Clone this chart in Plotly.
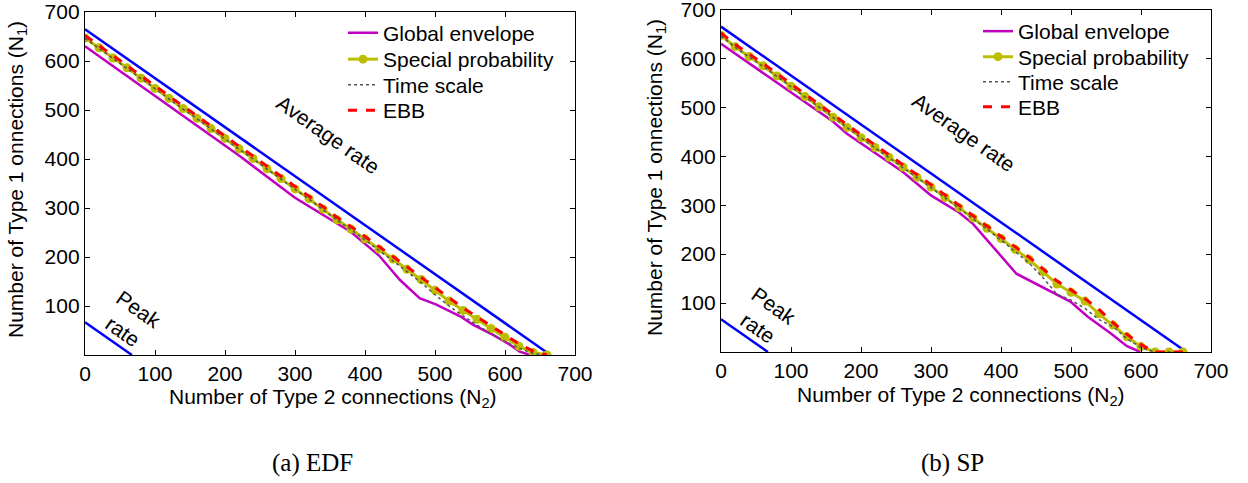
import plotly.graph_objects as go

W, H = 1248, 483


def px(x):
    return x / W


def py(y):
    return 1 - y / H


# ---------------- data ----------------
x_grid = [0, 20, 40, 60, 80, 100, 120, 140, 160, 180, 200, 220, 240, 260, 280, 300, 320,
          340, 360, 380, 400, 420, 440, 460, 480, 500, 520, 540, 560, 580, 600, 620, 640, 660]

# (a) EDF
sp_edf = [647, 627, 606, 586, 565, 544, 524, 503, 483, 462, 442, 421, 401, 380, 360, 339, 319,
          298, 276, 257, 237, 216, 196, 175, 154, 132, 110, 91, 73, 54, 36, 18, 5, 0]
ts_edf = [646, 626, 605, 585, 564, 543, 523, 502, 482, 461, 441, 420, 400, 379, 359, 338, 318,
          297, 275, 256, 235, 213, 192, 170, 148, 123, 100, 80, 61, 44, 28, 14, 3, 0]
ebb_edf = [652, 632, 611, 591, 570, 549, 529, 508, 488, 467, 447, 426, 406, 385, 365, 344, 324,
           303, 281, 262, 242, 221, 201, 180, 159, 137, 116, 96, 78, 59, 41, 23, 8, 0]
ge_edf_x = [0, 220, 300, 380, 420, 450, 478, 502, 536, 554, 583, 607, 621, 636]
ge_edf_y = [630, 407, 321, 251, 203, 153, 116, 103, 79, 62, 41, 21, 7, 0]

# (b) SP
sp_sp = [647, 624, 604, 585, 564, 543, 522, 501, 480, 459, 438, 418, 398, 378, 357, 337, 316,
         295, 274, 253, 232, 210, 189, 164, 139, 122, 104, 78, 55, 31, 11, 0, 0, 0]
ts_sp = [646, 623, 603, 584, 563, 542, 521, 500, 479, 458, 437, 417, 397, 377, 356, 336, 315,
         294, 272, 251, 229, 206, 182, 152, 118, 106, 89, 66, 52, 27, 9, 0, 0, 0]
ebb_sp = [652, 629, 609, 590, 569, 548, 527, 506, 485, 464, 443, 423, 403, 383, 362, 342, 321,
          300, 279, 258, 237, 215, 194, 170, 145, 127, 109, 87, 60, 36, 15, 0, 0, 0]
ge_sp_x = [0, 160, 180, 260, 300, 340, 360, 422, 499, 524, 557, 580, 599]
ge_sp_y = [630, 471, 446, 368, 320, 285, 262, 160, 103, 72, 38, 12, 0]

# reference rate lines (N1 + N2 = const)
avg_x = [0, 665]
avg_y = [665, 0]
peak_x = [0, 67]
peak_y = [67, 0]

x_ticks = [0, 100, 200, 300, 400, 500, 600, 700]
y_ticks = [100, 200, 300, 400, 500, 600, 700]

series_names = ["Global envelope", "Special probability", "Time scale", "EBB"]
captions = ["(a) EDF", "(b) SP"]

# ---------------- styles ----------------
SANS = "Liberation Sans, Arial, Helvetica, sans-serif"
SERIF = "Liberation Serif, Times New Roman, serif"
FS = 21
C_BLUE = "#0000FF"
C_MAG = "#C000C0"
C_YEL = "#BDBD00"
C_TS = "#555555"
C_EBB = "#FF0000"

fig = go.Figure()

panels = [
    dict(xa="x", ya="y", legs=["legend", "legend2", "legend3", "legend4"],
         sp=sp_edf, ts=ts_edf, ebb=ebb_edf, gx=ge_edf_x, gy=ge_edf_y,
         leg_x=343, leg_rows=[33, 59.5, 85, 110.5]),
    dict(xa="x2", ya="y2", legs=["legend5", "legend6", "legend7", "legend8"],
         sp=sp_sp, ts=ts_sp, ebb=ebb_sp, gx=ge_sp_x, gy=ge_sp_y,
         leg_x=978, leg_rows=[31.5, 57, 82, 107]),
]

legend_layouts = {}
for p in panels:
    fig.add_trace(go.Scatter(x=avg_x, y=avg_y, mode="lines", xaxis=p["xa"], yaxis=p["ya"],
                             line=dict(color=C_BLUE, width=2.5), showlegend=False, hoverinfo="skip"))
    fig.add_trace(go.Scatter(x=peak_x, y=peak_y, mode="lines", xaxis=p["xa"], yaxis=p["ya"],
                             line=dict(color=C_BLUE, width=2.5), showlegend=False, hoverinfo="skip"))
    fig.add_trace(go.Scatter(x=p["gx"], y=p["gy"], mode="lines", name=series_names[0],
                             xaxis=p["xa"], yaxis=p["ya"], legend=p["legs"][0],
                             line=dict(color=C_MAG, width=2.5)))
    fig.add_trace(go.Scatter(x=x_grid, y=p["sp"], mode="lines+markers", name=series_names[1],
                             xaxis=p["xa"], yaxis=p["ya"], legend=p["legs"][1],
                             line=dict(color=C_YEL, width=3),
                             marker=dict(color=C_YEL, size=9, symbol="circle")))
    fig.add_trace(go.Scatter(x=x_grid, y=p["ts"], mode="lines", name=series_names[2],
                             xaxis=p["xa"], yaxis=p["ya"], legend=p["legs"][2],
                             line=dict(color=C_TS, width=1.5, dash="dot")))
    fig.add_trace(go.Scatter(x=x_grid, y=p["ebb"], mode="lines", name=series_names[3],
                             xaxis=p["xa"], yaxis=p["ya"], legend=p["legs"][3],
                             line=dict(color=C_EBB, width=3, dash="dash")))
    for lg, ry in zip(p["legs"], p["leg_rows"]):
        legend_layouts[lg] = dict(x=px(p["leg_x"]), y=py(ry), xanchor="left", yanchor="middle",
                                  bgcolor="rgba(0,0,0,0)", borderwidth=0,
                                  font=dict(family=SANS, size=FS, color="black"),
                                  itemwidth=30)

axis_common = dict(showline=True, linecolor="black", linewidth=1.3, mirror="ticks",
                   ticks="inside", ticklen=5, tickcolor="black", tickwidth=1,
                   showgrid=False, zeroline=False, automargin=False,
                   ticklabeloverflow="allow",
                   tickfont=dict(family=SANS, size=FS, color="black"), range=[0, 700])

fig.update_layout(
    width=W, height=H,
    margin=dict(l=0, r=0, t=0, b=0, autoexpand=False),
    paper_bgcolor="white", plot_bgcolor="white",
    xaxis=dict(axis_common, domain=[px(85), px(575)], anchor="y", tickvals=x_ticks),
    yaxis=dict(axis_common, domain=[py(355), py(12)], anchor="x", tickvals=y_ticks),
    xaxis2=dict(axis_common, domain=[px(721), px(1211)], anchor="y2", tickvals=x_ticks),
    yaxis2=dict(axis_common, domain=[py(352), py(9.5)], anchor="x2", tickvals=y_ticks),
    showlegend=True,
    **legend_layouts,
)

ann = []
for (xa, ya, xt_px, yt_px) in [("x", "y", 17, 180), ("x2", "y2", 656, 178)]:
    ann.append(dict(x=347, y=449, xref=xa, yref=ya, text="Average rate", showarrow=False,
                    textangle=35, font=dict(family=SANS, size=FS, color="black")))
    ann.append(dict(x=65, y=72, xref=xa, yref=ya, text="Peak<br>rate", showarrow=False,
                    textangle=35, align="center", font=dict(family=SANS, size=FS, color="black")))
    ann.append(dict(x=px(xt_px), y=py(yt_px), xref="paper", yref="paper",
                    text="Number of Type 1 onnections (N<sub>1</sub>)", showarrow=False,
                    textangle=-90, xanchor="center", yanchor="middle",
                    font=dict(family=SANS, size=FS, color="black")))

ann.append(dict(x=px(333), y=py(398), xref="paper", yref="paper",
                text="Number of Type 2 connections (N<sub>2</sub>)", showarrow=False,
                xanchor="center", yanchor="middle", font=dict(family=SANS, size=FS, color="black")))
ann.append(dict(x=px(961), y=py(396), xref="paper", yref="paper",
                text="Number of Type 2 connections (N<sub>2</sub>)", showarrow=False,
                xanchor="center", yanchor="middle", font=dict(family=SANS, size=FS, color="black")))
ann.append(dict(x=px(312), y=py(463), xref="paper", yref="paper", text=captions[0],
                showarrow=False, xanchor="center", yanchor="middle",
                font=dict(family=SERIF, size=25, color="black")))
ann.append(dict(x=px(953), y=py(463), xref="paper", yref="paper", text=captions[1],
                showarrow=False, xanchor="center", yanchor="middle",
                font=dict(family=SERIF, size=25, color="black")))

fig.update_layout(annotations=ann)

# remove the browser's default 8px body margin so the figure fills the window exactly
fig.write_html("out.html",
               config={"displayModeBar": False},
               post_script="document.body.style.margin='0';document.body.style.overflow='hidden';")
